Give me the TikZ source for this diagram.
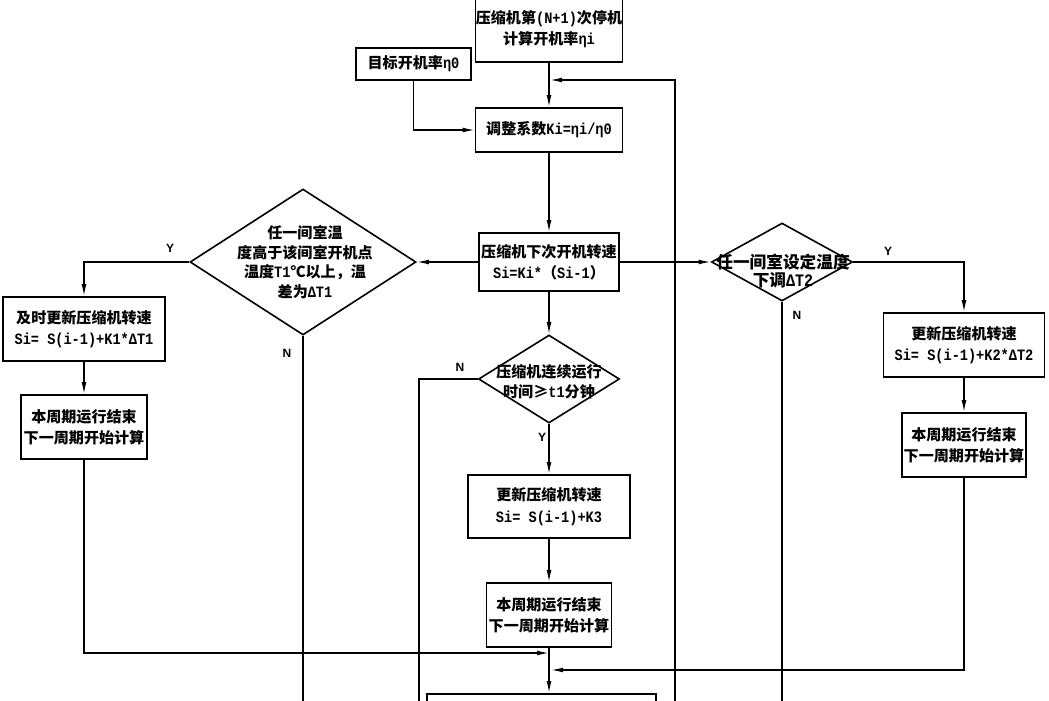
\documentclass[tikz,border=0pt]{standalone}
\usepackage{fontspec}
\usepackage{tikz}
\usetikzlibrary{shapes.geometric,arrows.meta}
\newfontfamily\cjk{Noto Sans CJK SC}
\newfontfamily\en{Liberation Mono}[Scale=1.05,FakeStretch=0.86]
\newfontfamily\ynfont{Liberation Sans}
\newcommand{\asc}[1]{{\en #1}}

\begin{document}
\begin{tikzpicture}[x=0.75pt,y=0.75pt,yscale=-1,xscale=1,
  proc/.style={draw,line width=1.2pt,rectangle,inner sep=0pt,align=center,font=\cjk\bfseries\fontsize{11.3}{16}\selectfont},
  decide/.style={draw,line width=1.2pt,diamond,inner sep=0pt},
  words/.style={align=center,inner sep=0pt,font=\cjk\bfseries\fontsize{11.3}{14.8}\selectfont},
  yn/.style={inner sep=0pt,font=\ynfont\bfseries\fontsize{9}{9}\selectfont},
  plain/.style={line width=1pt},
  arr/.style={line width=1pt,-{Latex[length=9pt,width=3.6pt]}}]
\useasboundingbox (0,0) rectangle (1049,700);
\clip (0,0) rectangle (1049,700);

%Flowchart: Process
\node[proc,minimum width=110.25pt,minimum height=49.5pt] (stop) at (549,29) {压缩机第\asc{(N+1)}次停机\\计算开机率\asc{ηi}};
%Flowchart: Process
\node[proc,minimum width=86.25pt,minimum height=24pt] (target) at (413.5,64) {目标开机率\asc{η0}};
%Flowchart: Process
\node[proc,minimum width=110.25pt,minimum height=33pt] (adjust) at (549,130) {调整系数\asc{Ki=ηi/η0}};
%Flowchart: Process
\node[proc,minimum width=105pt,minimum height=43.5pt] (speed) at (549,262) {压缩机下次开机转速\\\asc{Si=Ki*}（\asc{Si-1}）};

%Flowchart: Decision
\node[decide,minimum width=169.5pt,minimum height=109.5pt] (leftD) at (303,262) {};
% Text Node
\node[words] (leftDtxt) at (305,262) {任一间室温\\度高于该间室开机点\\温度\asc{T1}℃以上，温\\差为\asc{ΔT1}};
%Flowchart: Decision
\node[decide,minimum width=105.75pt,minimum height=58.5pt] (rightD) at (782,262) {};
% Text Node
\node[words,font=\cjk\bfseries\fontsize{12.5}{13.5}\selectfont] (rightDtxt) at (783,271) {任一间室设定温度\\下调\asc{ΔT2}};
%Flowchart: Decision
\node[decide,minimum width=105.75pt,minimum height=66pt] (midD) at (549,379) {};
% Text Node
\node[words] (midDtxt) at (549,382) {压缩机连续运行\\时间≥\asc{t1}分钟};

%Flowchart: Process
\node[proc,minimum width=121.5pt,minimum height=48pt] (leftUpd) at (84,329) {及时更新压缩机转速\\\asc{Si= S(i-1)+K1*ΔT1}};
%Flowchart: Process
\node[proc,minimum width=94.5pt,minimum height=48pt] (leftEnd) at (84,427) {本周期运行结束\\下一周期开始计算};
%Flowchart: Process
\node[proc,minimum width=121.5pt,minimum height=47.25pt] (midUpd) at (549,506.5) {更新压缩机转速\\\asc{Si= S(i-1)+K3}};
%Flowchart: Process
\node[proc,minimum width=93.75pt,minimum height=48pt] (midEnd) at (549,615) {本周期运行结束\\下一周期开始计算};
%Flowchart: Process
\node[proc,minimum width=120.75pt,minimum height=48pt] (rightUpd) at (964,345) {更新压缩机转速\\\asc{Si= S(i-1)+K2*ΔT2}};
%Flowchart: Process
\node[proc,minimum width=93pt,minimum height=48pt] (rightEnd) at (964,445) {本周期运行结束\\下一周期开始计算};
%Flowchart: Process
\node[proc,minimum width=171.75pt,minimum height=34.5pt] (bottom) at (541.5,717) {};

% Text Node
\node[yn] (yL) at (170,248) {Y};
\node[yn] (nL) at (287,353) {N};
\node[yn] (yR) at (888,251) {Y};
\node[yn] (nR) at (797,315) {N};
\node[yn] (nM) at (460,367) {N};
\node[yn] (yM) at (542,437) {Y};

% free ends and joins
\coordinate (outL) at (303,720);
\coordinate (outR) at (782,720);
\coordinate (bendM) at (419,379);
\coordinate (outM) at (419,720);
\coordinate (outF) at (675,720);
\coordinate (bendF) at (675,80);
\coordinate (joinF) at (550,80);
\coordinate (joinA) at (549,653);
\coordinate (joinB) at (551,670);

%Straight Lines
\draw[arr] (stop) -- (adjust);
\draw[arr] (target) |- (adjust);
\draw[arr] (adjust) -- (speed);
\draw[arr] (speed) -- (leftD);
\draw[arr] (speed) -- (rightD);
\draw[arr] (speed) -- (midD);
\draw[arr] (leftD) -| (leftUpd);
\draw[arr] (leftUpd) -- (leftEnd);
\draw[arr] (leftEnd) |- (joinA);
\draw[arr] (rightD) -| (rightUpd);
\draw[arr] (rightUpd) -- (rightEnd);
\draw[arr] (rightEnd) |- (joinB);
\draw[arr] (midD) -- (midUpd);
\draw[arr] (midUpd) -- (midEnd);
\draw[arr] (midEnd.south) -- (midEnd.south |- bottom.north);
\draw[plain] (leftD) -- (outL);
\draw[plain] (rightD) -- (outR);
\draw[plain] (midD) -- (bendM) -- (outM);
\draw[arr] (outF) -- (bendF) -- (joinF);

\end{tikzpicture}
\end{document}
